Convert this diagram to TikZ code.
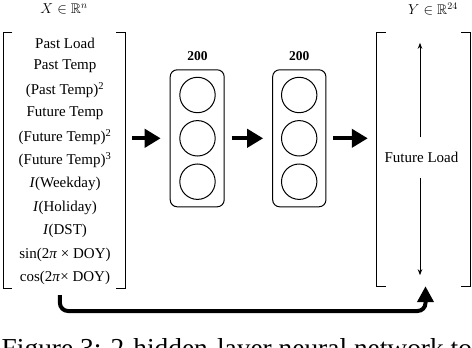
\documentclass[tikz,border=0pt]{standalone}
\usepackage{amssymb}
\usepackage{fontspec}
\setmainfont{Liberation Serif}
\usetikzlibrary{arrows.meta,calc}
\begin{document}
\begin{tikzpicture}[x=1pt,y=-1pt,
  line join=miter,
  lbl/.style={font=\fontsize{15}{15}\selectfont, inner sep=0pt, anchor=center},
  ttl/.style={font=\fontsize{14}{14}\selectfont, inner sep=0pt, anchor=center},
  brk/.style={draw=black, line width=1pt},
  layerbox/.style={draw=black, line width=1pt, rounded corners=7pt, inner sep=0pt, minimum width=54pt, minimum height=137pt},
  neuron/.style={draw=black, line width=1pt, circle, inner sep=0pt, minimum size=35.4pt},
  bigarrow/.style={line width=4pt, -{Triangle[length=16pt,width=18pt]}, shorten <=7pt, shorten >=9pt},
  thinarrow/.style={line width=0.9pt, -{Stealth[length=6pt,width=4.5pt]}},
  blank/.style={inner sep=0pt}
]
\path[use as bounding box] (0,0) rectangle (472,348);

% input vector
\node[blank, minimum width=121.5pt, minimum height=255pt] (inp) at (64.25,160.5) {};
\draw[brk] ([xshift=9pt]inp.north west) -- (inp.north west) -- (inp.south west) -- ++(9,0);
\draw[brk] ([xshift=-9pt]inp.north east) -- (inp.north east) -- (inp.south east) -- ++(-9,0);
\node[ttl] (xlab) at (64,9) {$X \in \mathbb{R}^n$};
\node[lbl] (i1) at (65,43) {Past Load};
\node[lbl] (i2) at (65,66.5) {Past Temp};
\node[lbl] (i3) at (65,90) {(Past Temp)\textsuperscript{2}};
\node[lbl] (i4) at (65,113.5) {Future Temp};
\node[lbl] (i5) at (65,137) {(Future Temp)\textsuperscript{2}};
\node[lbl] (i6) at (65,160.5) {(Future Temp)\textsuperscript{3}};
\node[lbl] (i7) at (65,184) {\textit{I}(Weekday)};
\node[lbl] (i8) at (65,207.5) {\textit{I}(Holiday)};
\node[lbl] (i9) at (65,231) {\textit{I}(DST)};
\node[lbl] (i10) at (65,254.5) {sin(2\textit{π} × DOY)};
\node[lbl] (i11) at (65,278) {cos(2\textit{π}× DOY)};

% hidden layers
\node[layerbox] (l1) at (197.2,138.3) {};
\node[neuron] (c11) at (197.5,95) {};
\node[neuron] (c12) at (197.5,138.3) {};
\node[neuron] (c13) at (197.5,181.7) {};
\node[lbl, font=\bfseries\fontsize{13.5}{13.5}\selectfont] (n1) at (197.5,56) {200};

\node[layerbox, minimum width=53.3pt] (l2) at (299.3,138.3) {};
\node[neuron] (c21) at (299.2,95) {};
\node[neuron] (c22) at (299.2,138.3) {};
\node[neuron] (c23) at (299.2,181.7) {};
\node[lbl, font=\bfseries\fontsize{13.5}{13.5}\selectfont] (n2) at (299.3,56) {200};

% output vector
\node[blank, minimum width=93pt, minimum height=253pt] (out) at (423.5,159.5) {};
\draw[brk] ([xshift=9pt]out.north west) -- (out.north west) -- (out.south west) -- ++(9,0);
\draw[brk] ([xshift=-9pt]out.north east) -- (out.north east) -- (out.south east) -- ++(-9,0);
\node[ttl] (ylab) at (433,9) {$Y \in \mathbb{R}^{24}$};
\node[lbl, minimum height=40pt] (fl) at (421.5,157.5) {Future Load};
\draw[thinarrow] ([xshift=-1.5pt]fl.north) -- ([xshift=-3.5pt,yshift=-10pt]out.north);
\draw[thinarrow] ([xshift=-1.5pt]fl.south) -- ([xshift=-3.5pt,yshift=11pt]out.south);

% connectors
\draw[bigarrow] (inp.east |- l1.west) -- (l1.west);
\draw[bigarrow] (l1.east) -- (l2.west);
\draw[bigarrow] (l2.east) -- (out.west |- l2.east);
\coordinate (cstart) at ([shift={(56.5pt,-7pt)}]inp.south west);
\coordinate (cbot) at (60,311);
\draw[line width=4pt, rounded corners=8pt, -{Triangle[length=16pt,width=16pt]}]
  (cstart) -- (cbot) -| ([xshift=2pt]out.south);

% caption (cut off at bottom)
\begin{scope}
\clip (0,0) rectangle (472,348);
\node[anchor=base west, inner sep=0pt, font=\fontsize{27.4}{27.4}\selectfont] (cap) at (1.5,357) {Figure 3: 2-hidden-layer neural network to};
\end{scope}
\end{tikzpicture}
\end{document}
